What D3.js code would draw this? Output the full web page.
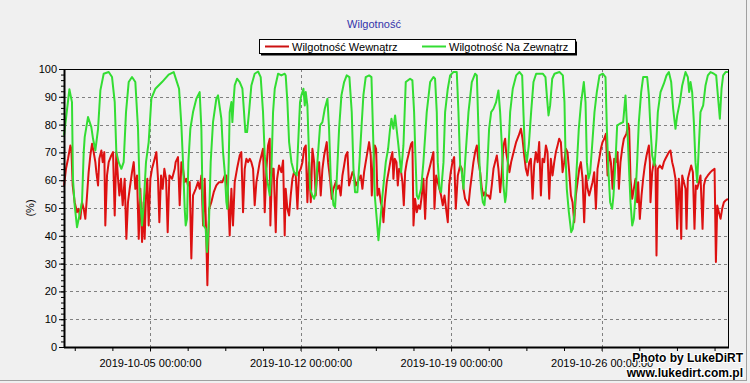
<!DOCTYPE html>
<meta charset="utf-8">
<style>
body { margin: 0; background: #f0f0f0; }
svg { display: block; font-family: "Liberation Sans", Arial, sans-serif; }
.grid line { stroke: #808080; stroke-dasharray: 3,3; shape-rendering: crispEdges; }
.axis text { font-size: 11px; fill: #000; }
.axis line { stroke: #000; }
</style>
<body>
<script src="https://d3js.org/d3.v7.min.js"></script>
<script>

// series names and colours order: indoor, outdoor
var seriesNames = ["Wilgotność Wewnątrz", "Wilgotność Na Zewnątrz"];
var startTime = Date.UTC(2019, 9, 1, 0, 0, 0);
var endTime = Date.UTC(2019, 9, 31, 21, 0, 0);
var yTicks = [0, 10, 20, 30, 40, 50, 60, 70, 80, 90, 100];
var xTickDays = ["2019-10-05", "2019-10-12", "2019-10-19", "2019-10-26"];

// [hours since 2019-10-01 00:00, humidity %]
var indoorData = [
  [0, 58], [2.2, 64.1], [4.5, 67.7], [7.1, 72.5], [8.2, 71.3], [9.7, 58.1], [11.9, 52.1], [14.5, 48.5], [16.4, 49.7], [18.2, 46.1],
  [20.1, 52.1], [22.0, 49.7], [23.8, 46.1], [25.7, 54.5], [27.5, 62.9], [29.4, 68.9], [31.3, 73.1], [33.1, 70.1], [35.0, 66.5], [36.1, 62.9],
  [38.0, 58.1], [39.4, 67.7], [41.7, 70.7], [43.2, 66.5], [45.0, 70.1], [46.1, 43.7], [48.0, 61.7], [49.9, 66.5], [52.8, 68.9], [54.7, 70.1],
  [56.6, 47.3], [58.4, 70.1], [60.3, 60.5], [61.8, 54.5], [63.6, 60.5], [65.5, 51.0], [67.7, 60.5], [69.6, 38.9], [71.4, 52.1], [73.3, 56.9],
  [75.9, 62.9], [77.8, 66.5], [79.6, 56.9], [81.5, 61.7], [83.4, 38.9], [85.2, 56.9], [87.1, 37.8], [88.9, 52.1], [90.0, 38.9], [91.5, 54.5],
  [93.0, 60.5], [94.5, 43.7], [96.4, 60.5], [98.2, 64.1], [101.2, 67.7], [103.1, 70.1], [104.9, 60.5], [106.4, 44.9], [108.3, 61.7], [110.1, 56.9],
  [112.0, 64.1], [113.9, 60.5], [115.7, 41.3], [117.6, 61.7], [120.6, 60.5], [123.6, 64.1],
  [124.6, 66.5], [127.2, 68.3], [129.1, 51.0], [131.0, 66.5], [132.8, 64.1], [134.7, 59.3], [136.6, 60.5], [138.4, 58.1], [140.3, 59.3], [142.1, 31.8],
  [144.0, 54.5], [147.0, 56.9], [149.6, 59.3], [151.4, 56.9], [153.3, 61.7], [155.2, 43.7], [157.0, 60.5], [158.9, 37.8], [160.0, 22.2], [161.9, 49.7],
  [164.4, 52.1], [167.1, 55.7], [170.0, 58.1], [173.0, 59.3], [176.7, 59.3], [179.4, 61.7], [181.2, 61.7], [183.1, 54.5], [184.9, 40.1], [186.8, 56.9],
  [188.6, 43.7], [190.5, 59.3], [193.1, 64.1], [196.1, 68.9], [197.9, 70.1], [199.8, 48.5], [201.7, 64.1], [203.5, 67.7], [205.4, 66.5], [207.3, 67.7],
  [209.1, 66.5], [211.0, 64.1], [212.8, 51.0], [214.7, 59.3], [218.4, 66.5], [220.3, 68.9], [222.1, 71.3], [224.0, 48.5], [225.9, 64.1], [227.7, 72.5],
  [229.6, 74.9], [230.3, 43.7], [232.2, 64.1], [234.0, 64.1], [236.3, 41.3], [237.8, 60.5], [240.0, 65.3], [242.6, 62.9], [244.5, 67.1], [246.3, 40.1],
  [247.4, 56.9], [249.3, 49.7], [251.2, 47.3], [253.0, 54.5], [254.9, 60.5], [256.7, 62.9], [258.6, 61.7], [260.5, 49.7], [262.3, 62.9], [264.2, 64.1],
  [266.1, 66.5], [267.9, 71.3], [269.8, 72.5], [271.6, 52.1], [273.5, 66.5], [275.4, 52.1], [277.2, 71.3], [279.1, 66.5], [280.9, 54.5], [282.8, 62.9],
  [284.7, 66.5], [286.5, 54.5], [288.4, 64.1], [290.3, 68.9], [293.2, 73.7], [294.7, 66.5], [296.9, 60.5], [298.8, 53.3], [300.7, 56.9], [303.3, 59.3],
  [305.1, 56.9], [307.0, 58.1], [308.8, 54.5], [310.7, 61.7], [312.6, 65.3], [314.4, 68.9], [316.3, 70.1], [318.1, 58.1], [320.0, 60.5], [321.9, 62.9],
  [323.7, 61.7], [325.6, 58.1], [327.4, 59.3], [329.3, 60.5], [331.2, 61.7], [333.0, 56.9], [334.9, 62.9], [336.7, 66.5], [338.6, 70.1], [340.5, 73.7],
  [342.3, 68.9], [343.5, 54.5], [345.3, 66.5], [346.8, 72.5], [348.3, 71.3], [349.8, 54.5], [351.6, 56.9], [353.5, 52.1], [355.4, 49.7], [356.5, 44.9],
  [358.0, 52.1], [360.2, 59.3], [362.8, 64.1], [364.7, 67.7], [366.5, 70.1], [367.6, 60.5], [369.1, 67.7], [371.0, 66.5],
  [372.5, 58.1], [374.0, 64.1], [376.2, 62.9], [377.7, 59.3], [379.2, 51.0], [380.7, 62.9], [382.5, 66.5], [385.1, 70.1], [387.4, 73.1], [388.8, 73.7],
  [390.0, 43.7], [391.8, 53.3], [393.7, 48.5], [395.5, 51.0], [397.4, 49.7], [399.3, 54.5], [401.1, 60.5], [403.0, 46.1], [404.8, 60.5], [406.7, 62.9],
  [408.6, 65.3], [410.4, 67.7], [412.3, 70.1], [413.4, 49.7], [415.3, 61.7], [417.1, 59.3], [419.0, 56.9], [420.8, 54.5], [422.7, 51.0], [424.6, 54.5],
  [426.4, 49.7], [428.3, 44.9], [429.8, 58.1], [431.6, 62.9], [433.5, 66.5], [435.4, 68.3], [437.2, 49.7], [439.5, 61.7], [442.1, 65.3], [443.9, 64.1],
  [445.8, 56.9], [447.6, 53.3], [449.5, 52.1], [451.4, 51.0], [453.2, 56.9], [455.1, 61.7], [456.9, 66.5], [458.8, 70.1], [460.7, 72.5], [462.5, 66.5],
  [464.4, 62.9], [466.3, 56.9], [468.1, 54.5], [470.0, 55.7], [471.8, 54.5], [473.7, 54.5], [475.6, 53.3], [477.4, 58.1], [479.3, 64.1], [481.1, 66.5],
  [483.0, 68.9], [484.8, 64.1], [486.7, 55.7], [488.6, 62.9], [490.4, 72.5], [492.3, 74.9],
  [493.4, 70.1], [495.3, 66.5], [497.1, 62.9], [499.0, 66.5], [500.8, 68.9], [502.7, 71.3], [504.6, 73.7], [507.5, 76.1], [509.9, 78.5], [511.7, 74.9],
  [513.6, 68.9], [515.4, 64.1], [517.3, 61.7], [519.2, 66.5], [521.0, 67.7], [522.9, 53.3], [524.7, 65.3], [526.6, 70.1], [528.5, 66.5], [530.3, 73.7],
  [532.2, 54.5], [534.0, 67.7], [535.9, 66.5], [537.8, 72.5], [539.6, 70.1], [541.5, 53.3], [543.3, 67.7], [545.2, 61.7], [547.1, 66.5], [548.9, 70.1],
  [550.8, 72.5], [552.6, 74.9], [554.5, 73.7], [556.4, 62.9], [558.2, 66.5], [560.1, 71.3], [561.9, 70.1], [563.8, 62.9], [565.7, 54.5], [567.5, 52.1],
  [569.4, 44.9], [571.2, 54.5], [573.1, 59.3], [575.0, 64.1], [576.8, 66.5], [578.7, 60.5], [580.5, 44.9], [582.4, 61.7], [584.3, 56.9], [586.1, 54.5],
  [588.0, 56.9], [589.8, 59.3], [591.7, 62.9], [593.6, 49.7], [595.4, 64.1], [597.3, 67.7], [599.1, 71.3], [601.0, 73.7], [602.9, 74.9], [604.7, 76.7],
  [606.6, 61.7], [608.4, 70.1], [610.3, 66.5], [612.2, 56.9], [614.0, 67.7], [615.9, 66.5], [617.7, 70.1],
  [619.2, 56.9], [621.0, 66.5], [622.9, 71.3], [624.8, 74.9], [627.7, 76.7], [629.6, 80.3], [630.7, 78.5], [632.2, 60.5], [634.1, 53.3], [635.9, 56.9],
  [637.8, 60.5], [639.6, 52.1], [640.7, 59.3], [642.6, 46.1], [644.5, 54.5], [646.3, 60.5], [648.2, 65.3], [650.1, 68.9], [652.7, 72.5], [653.8, 66.5],
  [654.5, 52.1], [656.4, 62.9], [658.2, 66.5], [660.1, 65.3], [661.2, 32.9], [662.7, 64.1], [664.9, 65.3], [667.5, 64.1], [669.4, 66.5], [671.2, 67.7],
  [673.1, 68.9], [675.0, 70.1], [676.8, 70.7], [678.7, 66.5], [680.5, 64.1], [682.4, 60.5], [684.3, 42.5], [686.1, 60.5], [687.3, 56.9], [688.8, 38.9],
  [689.9, 61.7], [691.7, 59.3], [693.6, 56.9], [694.7, 42.5], [696.2, 60.5], [698.0, 62.9], [699.9, 65.3], [701.8, 62.9], [703.6, 42.5], [705.1, 58.1],
  [706.6, 56.9], [708.5, 59.3], [710.3, 61.7], [712.6, 42.5], [714.1, 58.1], [715.9, 60.5], [718.5, 61.7], [721.5, 62.9], [723.4, 63.5], [726.0, 64.1],
  [727.5, 30.6], [729.0, 50.9], [730.8, 48.5], [732.7, 46.1], [734.5, 49.7], [736.4, 52.1], [738.3, 52.7], [740.9, 53.3]
];

var outdoorData = [
  [0, 76], [6.0, 92.7], [8.9, 88.1], [10.0, 60.5], [11.9, 51.0], [14.5, 43.1], [16.4, 46.1], [20.1, 52.1], [22.0, 70.1], [23.1, 75.5],
  [26.8, 82.7], [30.5, 79.1], [32.4, 74.9], [35.0, 70.7], [38.0, 78.5], [40.6, 92.3], [44.3, 98.3], [49.9, 98.9], [53.6, 97.1], [56.6, 88.1],
  [58.4, 70.1], [61.0, 66.5], [64.0, 64.1], [66.6, 66.5], [69.2, 84.5], [72.2, 95.3], [75.9, 97.1], [79.6, 95.3], [82.6, 78.5], [84.5, 55.7],
  [87.1, 43.7], [88.9, 51.0], [91.5, 66.5], [94.5, 73.7], [97.5, 89.3], [102, 92.9], [109.4, 95.3], [116.8, 98.0], [122.4, 98.9],
  [125.4, 95.9], [128.4, 92.9], [131.0, 79.7], [132.8, 66.5], [134.7, 49.7], [135.8, 43.7], [137.3, 46.1], [138.8, 66.5], [141.0, 78.5], [144.0, 84.5],
  [147.7, 89.3], [151.4, 91.7], [153.3, 78.5], [154.4, 56.9], [155.9, 43.7], [158.1, 42.5], [159.6, 34.2], [161.9, 46.1], [163.7, 66.5], [166.3, 80.9],
  [170.0, 89.3], [171.9, 90.5], [175.6, 82.1], [177.5, 70.1], [179.4, 62.9], [181.2, 52.1], [182.3, 49.7], [183.8, 66.5], [184.9, 84.5], [186.8, 88.1],
  [187.9, 80.9], [189.4, 89.3], [190.5, 94.1], [193.1, 96.5], [196.1, 95.3], [199.1, 92.9], [200.9, 84.5], [202.4, 77.3], [204.3, 77.3], [206.5, 84.5],
  [209.1, 94.1], [212.8, 98.3], [216.6, 99.1], [219.5, 97.1], [222.1, 84.5], [224.0, 68.9], [226.6, 60.5], [229.6, 54.5], [231.4, 62.9], [233.3, 84.5],
  [235.2, 92.9], [238.9, 98.3], [242.6, 97.7], [246.3, 98.3],
  [247.4, 97.7], [249.3, 88.1], [251.2, 73.7], [253.8, 66.5], [256.7, 62.9], [259.7, 61.7], [261.2, 72.5], [263.4, 88.1], [264.9, 90.5], [267.2, 92.9],
  [268.7, 86.9], [269.8, 91.7], [271.6, 86.9], [273.1, 72.5], [274.6, 56.9], [277.2, 54.5], [279.1, 53.3], [280.9, 55.7], [282.8, 66.5], [285.8, 79.7],
  [288.4, 80.9], [291.0, 85.7], [294.0, 89.3], [295.8, 78.5], [297.7, 60.5], [300.7, 51.0], [302.5, 50.3], [304.4, 60.5], [307.0, 78.5], [309.6, 90.5],
  [312.6, 95.3], [315.5, 97.7], [318.5, 97.1], [321.1, 84.5], [323.0, 64.1], [324.8, 55.7], [327.4, 55.7], [329.7, 66.5], [331.9, 78.5], [334.1, 90.5],
  [336.7, 97.1], [340.5, 97.7], [343.1, 97.1], [345.3, 72.5], [346.8, 54.5], [349.0, 46.1], [350.9, 38.4], [352.8, 44.9], [355.4, 54.5], [359.1, 66.5],
  [361.7, 71.3], [363.9, 78.5], [365.4, 82.1], [367.6, 78.5], [369.5, 83.3],
  [373.2, 72.5], [376.2, 62.9], [378.8, 72.5], [381.4, 95.3], [386.2, 96.5], [388.8, 95.9], [390.7, 84.5], [391.8, 72.5], [393.7, 54.5], [395.5, 53.3],
  [398.5, 56.9], [401.1, 66.5], [404.8, 84.5], [408.6, 95.3], [412.3, 97.1], [414.1, 96.5], [416.0, 84.5], [417.1, 66.5], [419.0, 56.9], [420.8, 55.7],
  [423.5, 66.5], [425.3, 84.5], [428.3, 92.9], [430.9, 97.7], [434.6, 98.9], [438.3, 98.9], [440.2, 84.5], [442.1, 65.3], [443.9, 62.9], [445.8, 56.9],
  [447.6, 66.5], [451.4, 84.5], [455.1, 95.3], [458.8, 98.3], [460.7, 97.7], [462.5, 78.5], [463.6, 66.5], [465.5, 56.9], [467.4, 52.1], [469.2, 51.0],
  [471.8, 60.5], [474.4, 78.5], [476.7, 84.5], [479.3, 85.7], [482.2, 88.1], [484.8, 92.3], [486.7, 84.5], [488.6, 72.5], [490.4, 58.1], [492.3, 52.1],
  [493.4, 54.5], [495.3, 66.5], [497.9, 84.5], [500.8, 92.9], [504.6, 97.7], [508.3, 98.9], [511.3, 97.7], [512.7, 84.5], [514.2, 71.3], [516.5, 66.5],
  [518.7, 72.5], [521.3, 84.5], [523.9, 95.3], [526.9, 98.3], [534.3, 98.3], [537.3, 97.1], [538.8, 90.5], [540.7, 83.3], [542.5, 86.9], [544.8, 96.5],
  [547.4, 98.3], [552.9, 98.9], [556.7, 97.7], [558.5, 88.1], [559.6, 70.1], [561.1, 56.9], [563.4, 48.5], [566.0, 41.3], [567.8, 42.5], [569.7, 48.5],
  [571.5, 60.5], [574.5, 78.5], [577.1, 88.1], [580.1, 95.3], [582.0, 88.1], [583.5, 66.5], [585.3, 60.5], [587.2, 62.9], [589.4, 72.5], [592.0, 84.5],
  [594.6, 91.7], [597.6, 97.7], [601.3, 98.3], [604.3, 97.1], [605.8, 78.5], [607.6, 62.9], [609.5, 52.1], [611.7, 49.7], [613.2, 54.5], [615.4, 66.5],
  [617.3, 79.7],
  [620.3, 80.3], [624.0, 80.9], [626.6, 90.5], [627.7, 83.3], [629.2, 74.9], [630.7, 62.9], [632.2, 52.1], [634.1, 43.7], [635.9, 46.1], [637.8, 54.5],
  [639.6, 66.5], [641.5, 80.9], [644.1, 91.7], [646.3, 97.1], [650.8, 97.1], [652.7, 90.5], [654.5, 78.5], [656.4, 68.9], [659.0, 65.3], [661.2, 74.9],
  [662.7, 84.5], [665.7, 91.7], [669.4, 94.7], [672.4, 97.7], [675.0, 98.9], [677.6, 95.3], [679.8, 85.7], [682.4, 78.5], [684.3, 83.3], [687.3, 88.1],
  [689.9, 94.1], [693.6, 98.9], [696.2, 97.1], [697.7, 91.7], [699.2, 95.3], [701.0, 91.7], [702.9, 80.9], [704.7, 66.5], [706.6, 59.3], [708.5, 72.5],
  [710.3, 84.5], [713.3, 86.9], [715.9, 94.1], [718.5, 97.7], [721.5, 98.9], [725.2, 98.3], [727.8, 97.7], [729.7, 90.5], [731.9, 82.1], [733.8, 92.9],
  [735.6, 97.7], [738.3, 98.9], [740.9, 98.9]
];

var width = 750,
    height = 383;

var plot = {left: 64, right: 728, top: 69, bottom: 347};

var svg = d3.select("body").append("svg")
    .attr("width", width)
    .attr("height", height);

svg.append("rect")
    .attr("width", width)
    .attr("height", height)
    .attr("fill", "#f0f0f0");

function toDate(h) { return new Date(startTime + h * 36e5); }

var x = d3.scaleUtc()
    .domain([new Date(startTime), new Date(endTime)])
    .range([plot.left, plot.right]);

var y = d3.scaleLinear()
    .domain([0, 100])
    .range([plot.bottom, plot.top]);

var majorTicks = xTickDays.map(function(s) { return d3.utcParse("%Y-%m-%d")(s); });
// minor ticks every 42 hours (quarter of a week), aligned on the major ticks
var minorTicks = d3.range(-2, 16).map(function(k) { return new Date(+majorTicks[0] + k * 42 * 36e5); })
    .filter(function(d) { return d >= x.domain()[0] && d <= x.domain()[1]; });

// grid
var grid = svg.append("g").attr("class", "grid");
grid.selectAll(".h")
    .data(yTicks.filter(function(d) { return d > 0 && d < 100; }))
  .enter().append("line")
    .attr("x1", plot.left).attr("x2", plot.right)
    .attr("y1", function(d) { return Math.round(y(d)) + 0.5; })
    .attr("y2", function(d) { return Math.round(y(d)) + 0.5; });
grid.selectAll(".v")
    .data(majorTicks)
  .enter().append("line")
    .attr("y1", plot.top).attr("y2", plot.bottom + 5)
    .attr("x1", function(d) { return Math.round(x(d)) + 0.5; })
    .attr("x2", function(d) { return Math.round(x(d)) + 0.5; });

// lines
var line = d3.line()
    .x(function(d) { return x(toDate(d[0])); })
    .y(function(d) { return y(d[1]); });

svg.append("path")
    .datum(indoorData)
    .attr("fill", "none")
    .attr("stroke", "#dd1111")
    .attr("stroke-width", 2)
    .attr("stroke-linejoin", "round")
    .attr("d", line);

svg.append("path")
    .datum(outdoorData)
    .attr("fill", "none")
    .attr("stroke", "#33dd33")
    .attr("stroke-width", 2)
    .attr("stroke-linejoin", "round")
    .attr("d", line);

// axes
var yAxis = svg.append("g")
    .attr("class", "axis")
    .attr("transform", "translate(" + plot.left + ",0)")
    .call(d3.axisLeft(y).tickValues(yTicks).tickSize(5).tickPadding(2));
yAxis.select(".domain").remove();

var yMinor = svg.append("g")
    .attr("class", "axis")
    .attr("transform", "translate(" + plot.left + ",0)")
    .call(d3.axisLeft(y).tickValues(d3.range(0, 101, 2)).tickSize(3).tickFormat(""));
yMinor.select(".domain").remove();

var xAxis = svg.append("g")
    .attr("class", "axis")
    .attr("transform", "translate(0," + plot.bottom + ")")
    .call(d3.axisBottom(x).tickValues(majorTicks).tickSize(0).tickPadding(12)
      .tickFormat(d3.utcFormat("%Y-%m-%d %H:%M:%S")));
xAxis.select(".domain").remove();

var xMinor = svg.append("g")
    .attr("class", "axis")
    .attr("transform", "translate(0," + plot.bottom + ")")
    .call(d3.axisBottom(x).tickValues(minorTicks).tickSize(4).tickFormat(""));
xMinor.select(".domain").remove();

// frame
svg.append("rect")
    .attr("x", plot.left + 0.5).attr("y", plot.top + 0.5)
    .attr("width", plot.right - plot.left).attr("height", plot.bottom - plot.top)
    .attr("fill", "none").attr("stroke", "#000");
svg.append("line")
    .attr("x1", plot.left + 0.5).attr("x2", plot.left + 0.5)
    .attr("y1", plot.top).attr("y2", plot.bottom + 1)
    .attr("stroke", "#000").attr("stroke-width", 2);
svg.append("line")
    .attr("x1", plot.left).attr("x2", plot.right + 1)
    .attr("y1", plot.bottom + 0.5).attr("y2", plot.bottom + 0.5)
    .attr("stroke", "#000").attr("stroke-width", 2);

// y label
svg.append("text")
    .attr("transform", "translate(34,208) rotate(-90)")
    .attr("text-anchor", "middle")
    .style("font-size", "11px")
    .text("(%)");

// title
svg.append("text")
    .attr("x", 374).attr("y", 28)
    .attr("text-anchor", "middle")
    .style("font-size", "11px")
    .attr("fill", "#3333aa")
    .text("Wilgotność");

// legend
var legend = svg.append("g");
legend.append("rect")
    .attr("x", 261).attr("y", 41.5).attr("width", 316).attr("height", 14)
    .attr("fill", "#000");
legend.append("rect")
    .attr("x", 259.5).attr("y", 39.5).attr("width", 316).attr("height", 14)
    .attr("fill", "#fff").attr("stroke", "#000");

var legendItems = [
  {name: seriesNames[0], color: "#cc1111", x: 265},
  {name: seriesNames[1], color: "#33dd33", x: 422}
];
legendItems.forEach(function(d) {
  legend.append("line")
      .attr("x1", d.x).attr("x2", d.x + 24)
      .attr("y1", 46.5).attr("y2", 46.5)
      .attr("stroke", d.color).attr("stroke-width", 2);
  legend.append("text")
      .attr("x", d.x + 27).attr("y", 50.5)
      .style("font-size", "11px")
      .text(d.name);
});

// watermark
var mark = svg.append("g")
    .attr("text-anchor", "end")
    .style("font-size", "12px")
    .style("font-weight", "bold");
mark.append("text").attr("x", 743).attr("y", 362).text("Photo by LukeDiRT")
    .attr("stroke", "#fff").attr("stroke-width", 2).attr("paint-order", "stroke");
mark.append("text").attr("x", 743).attr("y", 377).text("www.lukedirt.com.pl")
    .attr("stroke", "#fff").attr("stroke-width", 2).attr("paint-order", "stroke");

// outer border
svg.append("line").attr("x1", 746.5).attr("x2", 746.5).attr("y1", 0).attr("y2", 381)
    .attr("stroke", "#a0a0a0");
svg.append("line").attr("x1", 0).attr("x2", 747).attr("y1", 380.5).attr("y2", 380.5)
    .attr("stroke", "#a0a0a0");

</script>
